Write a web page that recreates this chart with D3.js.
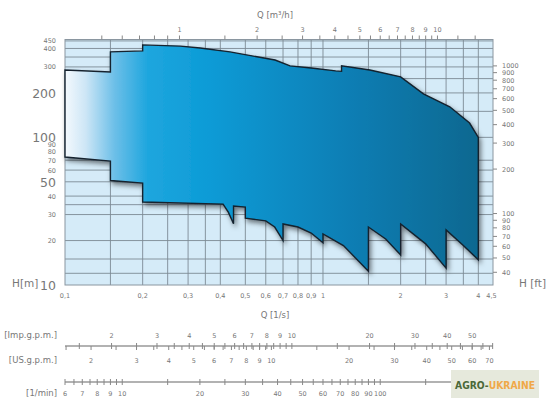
<!DOCTYPE html>
<html><head><meta charset="utf-8">
<script src="https://cdn.jsdelivr.net/npm/d3@7"></script>
<style>body{margin:0;background:#fff}text{font-family:"DejaVu Sans",sans-serif;fill:#777}</style>
</head><body><svg id="c" width="549" height="408"></svg>
<script>
// Envelope of the pump field (Q in l/s, H in m), clockwise
const envQ=[0.1,0.1,0.15,0.15,0.2,0.2,0.28,0.334,0.436,0.652,0.745,0.9,1.12,1.18,1.18,1.52,2.0,2.45,3.1,3.7,4.0,
  4.0,3.5,3.0,3.0,2.5,2.0,2.0,1.75,1.5,1.5,1.2,1.0,1.0,0.9,0.8,0.7,0.7,0.65,0.6,0.5,0.5,0.45,0.45,0.43,0.41,0.2,0.2,0.15,0.15,0.1];
const envH=[73.6,286,277,379,385,423,415,403,379,334,305,295,282,280,305,286,257,197,161,125,100,
  14.8,18.5,23.6,13,19,25.9,16,20.5,24.7,12.4,18.5,22.2,19.3,22.5,24.7,25.9,20,24.7,27.2,28.4,33.7,34.3,26,31,35.3,36.5,49,51,69,73.6];
const gridQ=[0.15,0.2,0.25,0.3,0.35,0.4,0.5,0.6,0.7,0.8,0.9,1,1.5,2,2.5,3,3.5,4];
const gridH=[12,15,20,30,35,40,50,60,70,100,150,200,250,300,350,400,450];
const bottomTicks=[0.1,0.2,0.3,0.4,0.5,0.6,0.7,0.8,0.9,1,2,3,4,4.5];
const bottomLabels=["0,1","0,2","0,3","0,4","0,5","0,6","0,7","0,8","0,9","1","2","3","4","4,5"];
const leftTicks=[450,400,300,200,100,90,80,70,60,50,40,30,20,10];
const leftBig=[200,100,50,10];
const ftTicks=[1000,900,800,700,600,500,400,300,200,100,90,80,70,60,50,40];
const m3hTicks=[1,2,3,4,5,6,7,8,9,10];
const m3hMinor=[0.5,0.6,0.7,0.8,0.9,1.5,2.5,3.5,4.5,5.5,6.5,7.5,8.5,9.5,12,14];
const impTicks=[2,3,4,5,6,7,8,9,10,20,30,40,50];
const impMinor=[1.5,2.5,3.5,4.5,5.5,6.5,7.5,8.5,9.5,15,25,35,45,55,60];
const usTicks=[2,3,4,5,6,7,8,9,10,20,30,40,50,60,70];
const usMinor=[1.6,2.5,3.5,4.5,5.5,6.5,7.5,8.5,9.5,15,25,35,45,55,65];
const lminTicks=[6,7,8,9,10,20,30,40,50,60,70,80,90,100,200];
const lminMinor=[6.5,7.5,8.5,9.5,15,25,35,45,55,65,75,85,95,150];

const svg=d3.select("#c");
const x=d3.scaleLog().domain([0.1,4.56]).range([65,493]);
const y=d3.scaleLog().domain([10,460]).range([285,39.5]);
const X0=65,X1=493,Y0=39.5,Y1=285;
const defs=svg.append("defs");
const g=defs.append("linearGradient").attr("id","gr").attr("x1","0").attr("x2","1").attr("y1","0").attr("y2","0");
[[0,"#f4f9fd"],[0.05,"#cde6f6"],[0.12,"#6cbfe8"],[0.2,"#1ea6de"],[0.35,"#0c9bd6"],[0.7,"#0a7db3"],[1,"#0a6890"]].forEach(s=>g.append("stop").attr("offset",s[0]).attr("stop-color",s[1]));
const f=defs.append("filter").attr("id","sh").attr("x","-10%").attr("y","-10%").attr("width","130%").attr("height","130%");
f.append("feDropShadow").attr("dx",2).attr("dy",3).attr("stdDeviation",2.5).attr("flood-color","#000").attr("flood-opacity",0.5);

svg.append("rect").attr("x",X0).attr("y",Y0).attr("width",X1-X0).attr("height",Y1-Y0).attr("fill","#d5ebf8");
svg.selectAll(".gv").data(gridQ).join("line").attr("x1",d=>x(d)).attr("x2",d=>x(d)).attr("y1",Y0).attr("y2",Y1).attr("stroke","#7d8a94").attr("stroke-width",0.9);
svg.selectAll(".gh").data(gridH).join("line").attr("y1",d=>y(d)).attr("y2",d=>y(d)).attr("x1",X0).attr("x2",X1).attr("stroke","#7d8a94").attr("stroke-width",0.9);
svg.append("rect").attr("x",X0).attr("y",Y0).attr("width",X1-X0).attr("height",Y1-Y0).attr("fill","none").attr("stroke","#8a96a0");

const pts=envQ.map((q,i)=>[x(q),y(envH[i])]);
svg.append("path").attr("d",d3.line()(pts)+"Z").attr("fill","url(#gr)").attr("stroke","#14222e").attr("stroke-width",1.4).attr("filter","url(#sh)");

// bottom Q [l/s]
svg.selectAll(".bl").data(bottomTicks).join("text").attr("x",d=>x(d)).attr("y",298).attr("text-anchor","middle").attr("font-size",6.5).text((d,i)=>bottomLabels[i]);
svg.append("text").attr("x",275).attr("y",318).attr("text-anchor","middle").attr("font-size",8.5).text("Q [1/s]");
svg.append("text").attr("x",12).attr("y",287).attr("font-size",10.5).text("H[m]");
svg.append("text").attr("x",519).attr("y",287).attr("font-size",10.5).text("H [ft]");
// left H
svg.selectAll(".lt").data(leftTicks).join("text").attr("x",56).attr("y",d=>y(d)+(leftBig.includes(d)?5:2.5)).attr("text-anchor","end")
  .attr("font-size",d=>leftBig.includes(d)?12.5:6.5).text(d=>d);
// right ft
svg.selectAll(".rt").data(ftTicks).join("line").attr("x1",X1).attr("x2",X1+4).attr("y1",d=>y(d*0.3048)).attr("y2",d=>y(d*0.3048)).attr("stroke","#888");
svg.selectAll(".rl").data(ftTicks).join("text").attr("x",X1+9).attr("y",d=>y(d*0.3048)+2.5).attr("font-size",6.5).text(d=>d);
// top m3/h
const qm=v=>x(v/3.6);
svg.selectAll(".tt").data(m3hTicks.concat(m3hMinor).filter(v=>v/3.6<=4.56&&v/3.6>=0.1)).join("line").attr("x1",qm).attr("x2",qm).attr("y1",Y0-4).attr("y2",Y0).attr("stroke","#888");
svg.selectAll(".tl").data(m3hTicks).join("text").attr("x",qm).attr("y",32).attr("text-anchor","middle").attr("font-size",6.5).text(d=>d);
svg.append("text").attr("x",275).attr("y",18).attr("text-anchor","middle").attr("font-size",8.5).text("Q [m³/h]");

function scaleBar(yLine,conv,major,minor,labY,label,labelY){
  svg.append("line").attr("x1",X0).attr("x2",X1).attr("y1",yLine).attr("y2",yLine).attr("stroke","#999").attr("stroke-width",1.6);
  const all=major.concat(minor).filter(v=>conv(v)>=0.1&&conv(v)<=4.56);
  svg.append("g").selectAll("line").data(all).join("line").attr("x1",d=>x(conv(d))).attr("x2",d=>x(conv(d))).attr("y1",yLine-3).attr("y2",yLine+3).attr("stroke","#888");
  svg.append("g").selectAll("text").data(major).join("text").attr("x",d=>x(conv(d))).attr("y",labY).attr("text-anchor","middle").attr("font-size",6.5).text(d=>d);
  if(label) svg.append("text").attr("x",57).attr("y",labelY).attr("text-anchor","end").attr("font-size",8.5).text(label);
}
scaleBar(346,v=>v/13.2,impTicks,impMinor,338,"[Imp.g.p.m.]",338);
svg.append("g").selectAll("line").data(usTicks.concat(usMinor).filter(v=>v/15.85>=0.1&&v/15.85<=4.56)).join("line")
  .attr("x1",d=>x(d/15.85)).attr("x2",d=>x(d/15.85)).attr("y1",346).attr("y2",350).attr("stroke","#888");
svg.append("g").selectAll("text").data(usTicks).join("text").attr("x",d=>x(d/15.85)).attr("y",363).attr("text-anchor","middle").attr("font-size",6.5).text(d=>d);
svg.append("text").attr("x",57).attr("y",363).attr("text-anchor","end").attr("font-size",8.5).text("[US.g.p.m.]");
scaleBar(382,v=>v/60,lminTicks,lminMinor,396,"[1/min]",396);

// watermark
svg.append("rect").attr("x",451).attr("y",370).attr("width",88).attr("height",28).attr("fill","#e6e9dc");
const wm=svg.append("text").attr("x",455).attr("y",389).attr("font-size",11).attr("font-family","Liberation Sans Narrow, sans-serif").attr("font-weight","bold").attr("textLength",80).attr("lengthAdjust","spacingAndGlyphs");
wm.append("tspan").style("fill","#4a6838").text("AGRO-");
wm.append("tspan").style("fill","#f0a848").text("UKRAINE");
</script></body></html>
